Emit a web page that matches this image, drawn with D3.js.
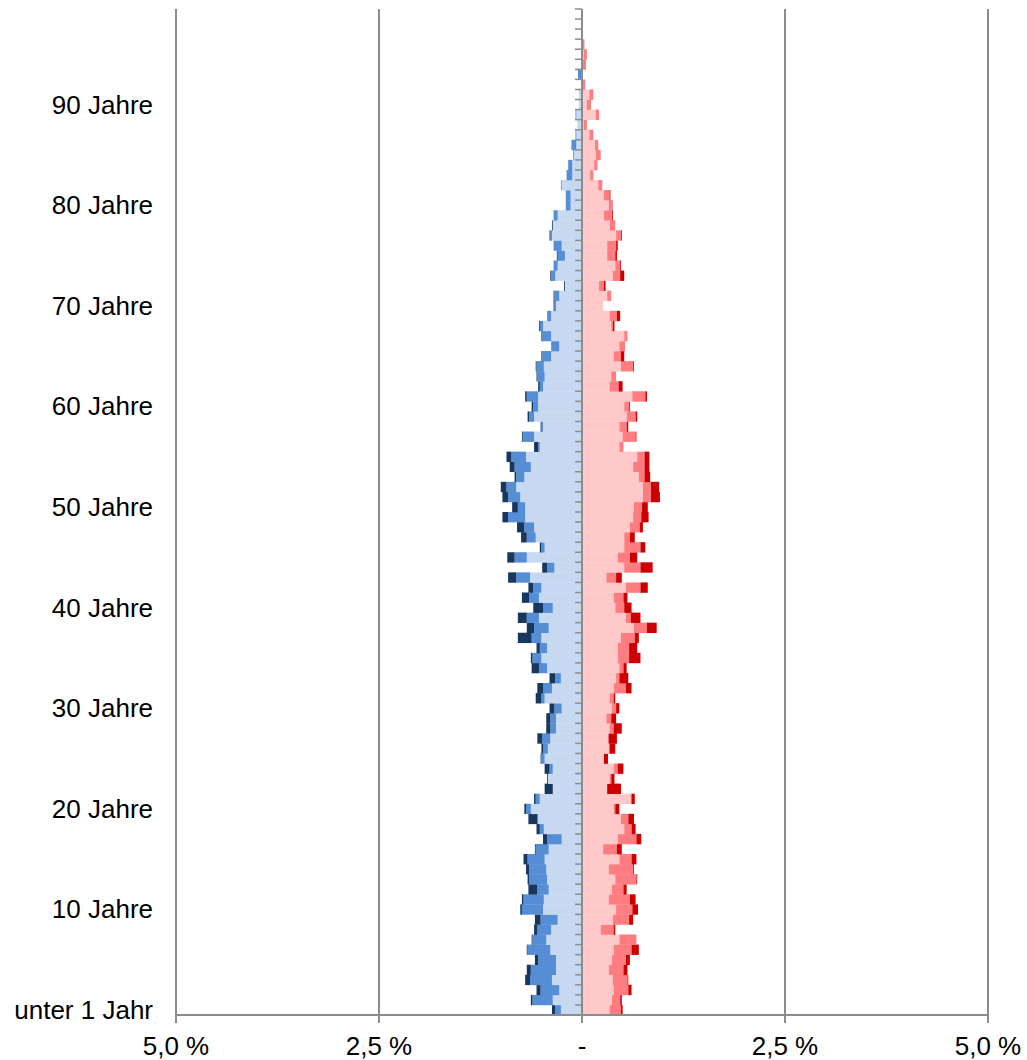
<!DOCTYPE html>
<html><head><meta charset="utf-8">
<script src="https://cdn.jsdelivr.net/npm/d3@7"></script>
<style>body{margin:0;background:#fff}text{font-family:"Liberation Sans",Arial,sans-serif}</style>
</head><body><svg id="c" width="1027" height="1060"></svg>
<script>
const maleLight=[.26,.36,.28,.37,.32,.32,.39,.44,.38,.30,.48,.47,.41,.43,.44,.46,.41,.25,.47,.54,.63,.52,.36,.42,.36,.46,.42,.39,.32,.32,.25,.46,.37,.26,.43,.50,.43,.50,.41,.53,.36,.53,.50,.64,.34,.68,.46,.57,.59,.70,.70,.76,.81,.71,.63,.69,.52,.59,.48,.59,.54,.54,.48,.46,.47,.38,.28,.38,.48,.38,.32,.28,.21,.33,.30,.21,.25,.37,.36,.30,.14,.14,.25,.12,.12,.10,.07,.07,.06,.07,.04,.04,0,.01,.01,0,0];
const maleMid=[.07,.25,.23,.27,.31,.22,.28,.17,.17,.21,.26,.25,.14,.22,.21,.21,.16,.18,.05,.01,.06,.05,0,0,.04,.04,.06,.10,.07,.07,.09,.04,.11,.07,.10,.11,.09,.12,.18,.15,.12,.12,.10,.17,.09,.15,.04,.11,.12,.21,.09,.15,.12,.10,.20,.18,.02,.14,.02,.06,.06,.14,.04,.09,.09,.11,.10,.11,.04,.05,.02,.06,0,.05,.05,.09,.10,.02,0,.05,.06,.06,.01,.07,.05,.01,.06,.01,0,.01,0,0,0,.04,0,0,0];
const maleDark=[.04,.02,.05,.06,.05,.04,.01,.01,.04,.07,.02,.02,.11,.02,.04,.05,.01,.05,.04,.11,.02,.02,.10,.01,.06,.01,.02,.06,.05,.05,.06,.07,.07,.07,.09,.02,.04,.17,.09,.11,.12,.09,.06,.10,.06,.09,.02,.07,.09,.07,.07,.07,.07,.02,.06,.06,.05,.01,.01,.02,.02,.02,.02,.01,.01,.01,0,.01,.01,0,.01,.01,.01,.01,0,.01,0,.01,.01,0,0,0,0,0,0,0,0,0,0,0,0,0,0,0,0,0,0];
const femLight=[.34,.37,.39,.38,.33,.37,.39,.46,.23,.38,.42,.33,.37,.41,.33,.46,.26,.44,.52,.48,.39,.60,.31,.34,.39,.27,.33,.32,.34,.30,.37,.34,.39,.42,.46,.44,.44,.48,.64,.54,.41,.39,.54,.30,.52,.44,.52,.52,.59,.63,.64,.75,.75,.70,.63,.68,.46,.50,.46,.55,.52,.62,.34,.36,.48,.39,.46,.52,.36,.34,.26,.31,.21,.38,.41,.31,.31,.42,.34,.27,.33,.27,.20,.10,.15,.17,.16,.09,.02,.17,.06,.09,0,0,.01,.02,.01];
const femMid=[.14,.10,.18,.18,.18,.17,.22,.21,.16,.20,.20,.26,.14,.26,.30,.15,.17,.23,.09,.09,.02,.01,0,.02,.05,0,.01,.01,.05,.06,.05,.05,.15,.04,.05,.14,.14,.17,.16,.06,.11,.12,.18,.12,.20,.15,.20,.07,.12,.10,.10,.10,.10,.07,.14,.09,.05,.16,.09,.11,.06,.16,.11,.06,.15,.09,.07,.04,.02,.09,0,.05,.06,.09,.06,.10,.11,.06,.07,.10,.05,.07,.05,.04,.04,.06,.04,.05,.04,.04,.05,.05,.04,0,.04,.04,.02];
const femDark=[.02,.02,.04,.01,.05,.05,.09,0,.02,.05,.07,.07,.04,.01,.01,.06,.06,.06,.05,.07,.05,.04,.17,.04,.07,.05,.07,.10,.10,.06,.04,.02,.07,.11,.04,.14,.10,.05,.12,.12,.09,.05,.09,.07,.15,.09,.06,.06,.04,.09,.07,.11,.10,.07,.06,.06,0,.01,.02,.02,.01,.02,.05,0,.01,.04,0,0,.02,.04,0,0,.02,.05,.01,.02,.02,.01,0,.01,0,.01,0,0,0,0,0,0,0,0,0,0,0,0,0,0,0];
const xTicks=[-5,-2.5,0,2.5,5];
const xTickLabels=["5,0 %","2,5 %","-","2,5 %","5,0 %"];
const yLabelAges=[0,10,20,30,40,50,60,70,80,90];
const yLabels=["unter 1 Jahr","10 Jahre","20 Jahre","30 Jahre","40 Jahre","50 Jahre","60 Jahre","70 Jahre","80 Jahre","90 Jahre"];
const maleColors=["#c6d9f1","#558ed5","#17375e"];
const femColors=["#ffc9c9","#ff7c80","#cc0000"];

const svg=d3.select("#c");
const x=d3.scaleLinear().domain([-5,5]).range([176,988]);
const y=d3.scaleLinear().domain([0,100]).range([1015,9]);
const grid="#8c8c8c";
svg.append("g").selectAll("line").data(xTicks.filter(d=>d!==0)).join("line")
 .attr("x1",d=>x(d)).attr("x2",d=>x(d)).attr("y1",y(100)).attr("y2",y(0)+8)
 .attr("stroke",grid).attr("stroke-width",2);
const ages=d3.range(maleLight.length);
function draw(layers,colors,sign){
  ages.forEach(a=>{
    let acc=0;
    layers.forEach((arr,i)=>{
      const v=arr[a]; if(!v) return;
      const x0=x(sign*acc), x1=x(sign*(acc+v));
      svg.append("rect").attr("x",Math.min(x0,x1)).attr("width",Math.abs(x1-x0))
        .attr("y",y(a+1)).attr("height",y(a)-y(a+1)+0.3).attr("fill",colors[i]);
      acc+=v;
    });
  });
}
draw([maleLight,maleMid,maleDark],maleColors,-1);
draw([femLight,femMid,femDark],femColors,1);
svg.append("line").attr("x1",x(0)).attr("x2",x(0)).attr("y1",y(100)).attr("y2",y(0)+8).attr("stroke",grid).attr("stroke-width",2);
svg.append("g").selectAll("line").data(d3.range(0,101)).join("line")
 .attr("x1",x(0)-7).attr("x2",x(0)).attr("y1",d=>y(d)).attr("y2",d=>y(d)).attr("stroke",grid).attr("stroke-width",1.5);
svg.append("line").attr("x1",x(-5)).attr("x2",x(5)).attr("y1",y(0)).attr("y2",y(0)).attr("stroke",grid).attr("stroke-width",2);
svg.append("g").selectAll("text").data(xTicks).join("text")
 .attr("x",d=>x(d)).attr("y",1055).attr("text-anchor","middle").attr("font-size",26).attr("fill","#000")
 .text((d,i)=>xTickLabels[i]);
svg.append("g").selectAll("text").data(yLabelAges).join("text")
 .attr("x",153).attr("y",d=>y(d+0.5)+9).attr("text-anchor","end").attr("font-size",26).attr("fill","#000")
 .text((d,i)=>yLabels[i]);
</script></body></html>
